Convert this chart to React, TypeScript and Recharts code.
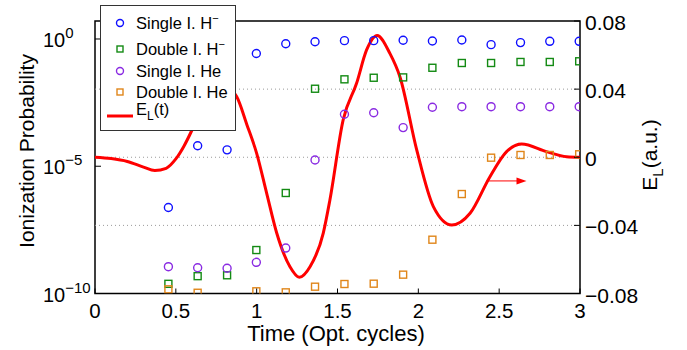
import React from "react";
import {
  ComposedChart,
  Line,
  Scatter,
  XAxis,
  YAxis,
  ReferenceLine,
  ReferenceArea,
  ReferenceDot,
  Legend,
} from "recharts";

// ---- data ----
const times = [0.454, 0.635, 0.817, 0.998, 1.18, 1.361, 1.543, 1.724, 1.906, 2.087, 2.269, 2.45, 2.632, 2.813, 2.995];
const singleH = [2.4e-7, 6.4e-5, 4.4e-5, 0.27, 0.65, 0.78, 0.86, 0.86, 0.89, 0.83, 0.91, 0.6, 0.72, 0.81, 0.81];
const doubleH = [2.4e-10, 4.8e-10, 5.2e-10, 5.1e-9, 8.9e-7, 0.0111, 0.026, 0.03, 0.031, 0.074, 0.114, 0.114, 0.125, 0.125, 0.133];
const singleHe = [1.13e-9, 1.03e-9, 9.8e-10, 1.68e-9, 6.1e-9, 1.76e-5, 1.1e-3, 1.27e-3, 3.3e-4, 2.07e-3, 2.19e-3, 2.19e-3, 2.19e-3, 2.19e-3, 2.19e-3];
const doubleHe: (number | null)[] = [1.46e-10, 1.07e-10, null, 1.22e-10, 1.11e-10, 1.85e-10, 2.36e-10, 2.43e-10, 5.5e-10, 1.3e-8, 8.1e-7, 2.17e-5, 2.77e-5, 2.77e-5, 2.95e-5];

const fieldT = [0, 0.1, 0.2, 0.3, 0.37, 0.44, 0.5, 0.55, 0.6, 0.65, 0.7, 0.75, 0.81, 0.876, 0.94, 1.0, 1.062, 1.124, 1.206, 1.264, 1.33, 1.412, 1.453, 1.535, 1.618, 1.68, 1.745, 1.824, 1.886, 1.99, 2.093, 2.207, 2.32, 2.443, 2.546, 2.639, 2.793, 2.917, 3.0];
const fieldE = [0, -0.0008, -0.0025, -0.0058, -0.0078, -0.0065, -0.001, 0.0065, 0.016, 0.027, 0.036, 0.041, 0.041, 0.0356, 0.019, 0.0023, -0.0212, -0.0445, -0.0643, -0.0705, -0.0643, -0.0445, -0.0251, 0.0219, 0.0434, 0.063, 0.0715, 0.061, 0.0473, 0.0043, -0.029, -0.0398, -0.0329, -0.0114, 0.0033, 0.0078, 0.0033, 0.0003, 0];

const xTicks = [0, 0.5, 1, 1.5, 2, 2.5, 3];
const leftTicks = [1e-10, 1e-5, 1];
const rightTicks = [-0.08, -0.04, 0, 0.04, 0.08];
const gridLines = [-0.04, 0, 0.04];
const arrowFrom = { x: 2.422, y: -0.0139 };
const arrowTo = { x: 2.669, y: -0.0139 };

const BLUE = "#1010ff";
const GREEN = "#138a13";
const PURPLE = "#8a2be2";
const ORANGE = "#e0861a";
const RED = "#ff0000";
const FONT = "'Liberation Sans', Arial, Helvetica, sans-serif";

const toPoints = (vals: (number | null)[]) =>
  times
    .map((t, i) => ({ t, p: vals[i] }))
    .filter((d) => d.p !== null && d.p !== undefined);

const fieldData = fieldT.map((t, i) => ({ t, E: fieldE[i] }));

const Circle = (color: string) => (props: any) => {
  const { cx, cy } = props;
  if (cx == null || cy == null) return null;
  return <circle cx={cx} cy={cy} r={4} fill="none" stroke={color} strokeWidth={1.4} />;
};
const Square = (color: string) => (props: any) => {
  const { cx, cy } = props;
  if (cx == null || cy == null) return null;
  return <rect x={cx - 3.5} y={cy - 3.5} width={7} height={7} fill="none" stroke={color} strokeWidth={1.4} />;
};

const XTick = (props: any) => {
  const { x, y, payload } = props;
  return (
    <g>
      <line x1={x} x2={x} y1={y} y2={y - 5} stroke="#000" strokeWidth={1} />
      <text x={x} y={y + 24} textAnchor="middle" fontSize={20.5} fontFamily={FONT} fill="#000">
        {String(payload.value)}
      </text>
    </g>
  );
};

const LeftTick = (props: any) => {
  const { x, y, payload } = props;
  const exp = Math.round(Math.log10(payload.value));
  const expStr = exp < 0 ? "\u2212" + Math.abs(exp) : String(exp);
  return (
    <g>
      <line x1={x} x2={x + 6} y1={y} y2={y} stroke="#000" strokeWidth={1} />
      <text x={x - 52} y={y + 8} fontSize={20} fontFamily={FONT} fill="#000">
        10
        <tspan dy={-9} fontSize={15}>
          {expStr}
        </tspan>
      </text>
    </g>
  );
};

const RightTick = (props: any) => {
  const { x, y, payload } = props;
  const v = payload.value;
  const s = v === 0 ? "0" : v < 0 ? "\u2212" + Math.abs(v).toFixed(2) : v.toFixed(2);
  return (
    <g>
      <line x1={x} x2={x - 6} y1={y} y2={y} stroke="#000" strokeWidth={1} />
      <text x={x + 5} y={y + 9} fontSize={21} fontFamily={FONT} fill="#000">
        {s}
      </text>
    </g>
  );
};

const XTitle = () => (
  <text x={336} y={341} textAnchor="middle" fontSize={22} fontFamily={FONT} fill="#000">
    Time (Opt. cycles)
  </text>
);
const LeftTitle = () => (
  <text transform="translate(34,151) rotate(-90)" textAnchor="middle" fontSize={21} fontFamily={FONT} fill="#000">
    Ionization Probability
  </text>
);
const RightTitle = () => (
  <text transform="translate(657,155) rotate(-90)" textAnchor="middle" fontSize={21} fontFamily={FONT} fill="#000">
    E
    <tspan dy={6} fontSize={15}>
      L
    </tspan>
    <tspan dy={-6}>(a.u.)</tspan>
  </text>
);

const legendRows = [
  { name: "Single I. H", sup: "\u2212", color: BLUE, kind: "circle" },
  { name: "Double I. H", sup: "\u2212", color: GREEN, kind: "square" },
  { name: "Single I. He", sup: "", color: PURPLE, kind: "circle" },
  { name: "Double I. He", sup: "", color: ORANGE, kind: "square" },
];
const rowY = [17, 43, 65, 86];

const LegendBox = () => (
  <svg width={134} height={124} style={{ display: "block" }}>
    {legendRows.map((r, i) => (
      <g key={r.name}>
        {r.kind === "circle" ? (
          <circle cx={19} cy={rowY[i]} r={3.5} fill="none" stroke={r.color} strokeWidth={1.4} />
        ) : (
          <rect x={16} y={rowY[i] - 3} width={6} height={6} fill="none" stroke={r.color} strokeWidth={1.4} />
        )}
        <text x={35} y={rowY[i] + 6} fontSize={16.5} fontFamily={FONT} fill="#000">
          {r.name}
          {r.sup ? (
            <tspan dy={-7} fontSize={11}>
              {r.sup}
            </tspan>
          ) : null}
        </text>
      </g>
    ))}
    <line x1={6} x2={32} y1={110} y2={110} stroke={RED} strokeWidth={3} />
    <text x={35} y={109} fontSize={16.5} fontFamily={FONT} fill="#000">
      E
      <tspan dy={5} fontSize={12}>
        L
      </tspan>
      <tspan dy={-5}>(t)</tspan>
    </text>
  </svg>
);

export default function App() {
  return (
    <div style={{ position: "absolute", left: 0, top: 0, background: "#fff" }}>
      <ComposedChart
        width={687}
        height={350}
        margin={{ top: 21, right: 27, bottom: 26.5, left: 35 }}
        style={{ fontFamily: FONT }}
      >
        <XAxis
          dataKey="t"
          type="number"
          domain={[0, 3]}
          ticks={xTicks}
          allowDataOverflow
          height={30}
          axisLine={false}
          tickLine={false}
          tickSize={0}
          tickMargin={0}
          tick={<XTick />}
          label={<XTitle />}
        />
        <YAxis
          yAxisId="left"
          type="number"
          scale="log"
          domain={[1e-10, 5.09]}
          ticks={leftTicks}
          allowDataOverflow
          width={60}
          axisLine={false}
          tickLine={false}
          tickSize={0}
          tickMargin={0}
          tick={<LeftTick />}
          label={<LeftTitle />}
        />
        <YAxis
          yAxisId="right"
          orientation="right"
          type="number"
          domain={[-0.08, 0.08]}
          ticks={rightTicks}
          allowDataOverflow
          width={80}
          axisLine={false}
          tickLine={false}
          tickSize={0}
          tickMargin={0}
          tick={<RightTick />}
          label={<RightTitle />}
        />
        {gridLines.map((g) => (
          <ReferenceLine key={g} yAxisId="right" y={g} stroke="#9a9a9a" strokeDasharray="1 3" strokeWidth={1} />
        ))}
        <ReferenceArea yAxisId="right" x1={0} x2={3} y1={-0.08} y2={0.08} fill="none" fillOpacity={0} stroke="#000" strokeWidth={1.5} />
        <Line
          yAxisId="right"
          data={fieldData}
          dataKey="E"
          type="monotone"
          stroke={RED}
          strokeWidth={3}
          dot={false}
          isAnimationActive={false}
        />
        <ReferenceLine
          yAxisId="right"
          segment={[arrowFrom, { x: arrowTo.x - 0.04, y: arrowTo.y }]}
          stroke={RED}
          strokeWidth={1}
        />
        <ReferenceDot
          yAxisId="right"
          x={arrowTo.x}
          y={arrowTo.y}
          shape={(p: any) => <path d={`M${p.cx},${p.cy} l-10,-3.5 l0,7 z`} fill={RED} />}
        />
        <Scatter yAxisId="left" name="Single I. H-" data={toPoints(singleH)} dataKey="p" shape={Circle(BLUE)} isAnimationActive={false} />
        <Scatter yAxisId="left" name="Double I. H-" data={toPoints(doubleH)} dataKey="p" shape={Square(GREEN)} isAnimationActive={false} />
        <Scatter yAxisId="left" name="Single I. He" data={toPoints(singleHe)} dataKey="p" shape={Circle(PURPLE)} isAnimationActive={false} />
        <Scatter yAxisId="left" name="Double I. He" data={toPoints(doubleHe)} dataKey="p" shape={Square(ORANGE)} isAnimationActive={false} />
        <Legend
          layout="vertical"
          align="center"
          verticalAlign="middle"
          content={<LegendBox />}
          wrapperStyle={{
            position: "absolute",
            left: 100,
            top: 5,
            width: 136,
            height: 126,
            background: "#fff",
            border: "1px solid #333",
            boxSizing: "border-box",
            transform: "none",
            margin: 0,
          }}
        />
      </ComposedChart>
    </div>
  );
}
